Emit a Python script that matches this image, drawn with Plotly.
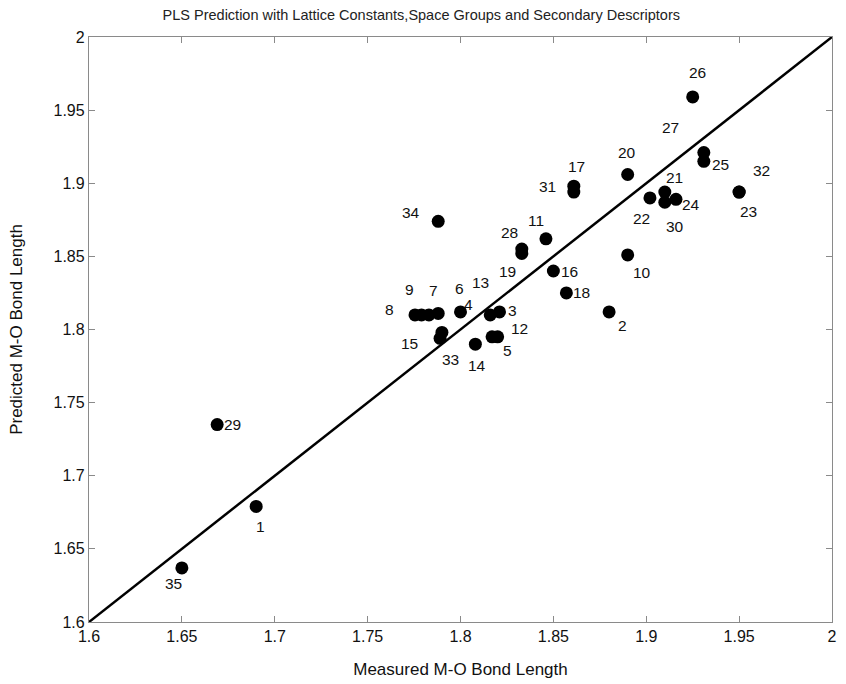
import plotly.graph_objects as go

# Data
labels = [str(i) for i in range(1, 36)]
measured = [1.690, 1.880, 1.821, 1.800, 1.820, 1.788, 1.783, 1.7755, 1.779, 1.890,
            1.846, 1.817, 1.816, 1.808, 1.790, 1.850, 1.861, 1.857, 1.833, 1.890,
            1.910, 1.902, 1.950, 1.916, 1.931, 1.925, 1.931, 1.833, 1.669, 1.910,
            1.861, 1.950, 1.789, 1.788, 1.650]
predicted = [1.679, 1.812, 1.812, 1.812, 1.795, 1.811, 1.810, 1.810, 1.810, 1.851,
             1.862, 1.795, 1.810, 1.790, 1.798, 1.840, 1.898, 1.825, 1.852, 1.906,
             1.894, 1.890, 1.894, 1.889, 1.915, 1.959, 1.921, 1.855, 1.735, 1.887,
             1.894, 1.894, 1.794, 1.874, 1.637]
ideal = [1.6, 2.0]
tick_vals = [1.6, 1.65, 1.7, 1.75, 1.8, 1.85, 1.9, 1.95, 2.0]
tick_text = ["1.6", "1.65", "1.7", "1.75", "1.8", "1.85", "1.9", "1.95", "2"]

# label offsets in pixels (dx right, dy down) - styling only
label_dx = [4, 13, 13, 8, 10, 21, 5, -25, -12, 14,
            -10, 27, -10, 2, -32, 16, 3, 15, -14, -1,
            10, -8, 9, 15, 17, 5, -33, -12, 15, 10,
            -26, 22, 10, -27, -8]
label_dy = [20, 14, -1, -7, 14, -25, -24, -5, -25, 18,
            -18, -8, -32, 21, 11, 0, -20, 0, 18, -22,
            -15, 21, 19, 5, 3, -24, -25, -17, 0, 24,
            -6, -22, 21, -9, 16]

font_family = "Liberation Sans, Arial, sans-serif"
axis_color = "#8a8a8a"

fig = go.Figure()
fig.add_trace(go.Scatter(x=ideal, y=ideal, mode="lines",
                         line=dict(color="black", width=2.5), showlegend=False,
                         hoverinfo="skip"))
fig.add_trace(go.Scatter(x=measured, y=predicted, mode="markers",
                         marker=dict(color="black", size=13),
                         text=labels, showlegend=False))

for lab, xv, yv, dx, dy in zip(labels, measured, predicted, label_dx, label_dy):
    fig.add_annotation(x=xv, y=yv, text=lab, showarrow=False,
                       xshift=dx, yshift=-dy,
                       font=dict(family=font_family, size=15.5, color="#111"))

axis_common = dict(
    showline=True, linecolor=axis_color, linewidth=1.3, mirror="ticks",
    ticks="inside", ticklen=6, tickcolor=axis_color, tickwidth=1,
    showgrid=False, zeroline=False, automargin=False,
    tickvals=tick_vals, ticktext=tick_text,
    tickfont=dict(family=font_family, size=16, color="#111"),
)

fig.update_layout(
    width=846, height=684,
    margin=dict(l=89, r=14, t=37, b=62),
    paper_bgcolor="white", plot_bgcolor="white",
    title=dict(text="PLS Prediction with Lattice Constants,Space Groups and Secondary Descriptors",
               x=680 / 846, xanchor="right", y=1 - 15 / 684, yanchor="middle",
               font=dict(family=font_family, size=14.5, color="#222")),
    xaxis=dict(range=[1.6, 2.0], title=dict(text="Measured M-O Bond Length",
               font=dict(family=font_family, size=17, color="#111"), standoff=18),
               **axis_common),
    yaxis=dict(range=[1.6, 2.0], title=dict(text="Predicted M-O Bond Length",
               font=dict(family=font_family, size=17, color="#111"), standoff=26),
               **axis_common),
)

fig.write_html("out.html")
